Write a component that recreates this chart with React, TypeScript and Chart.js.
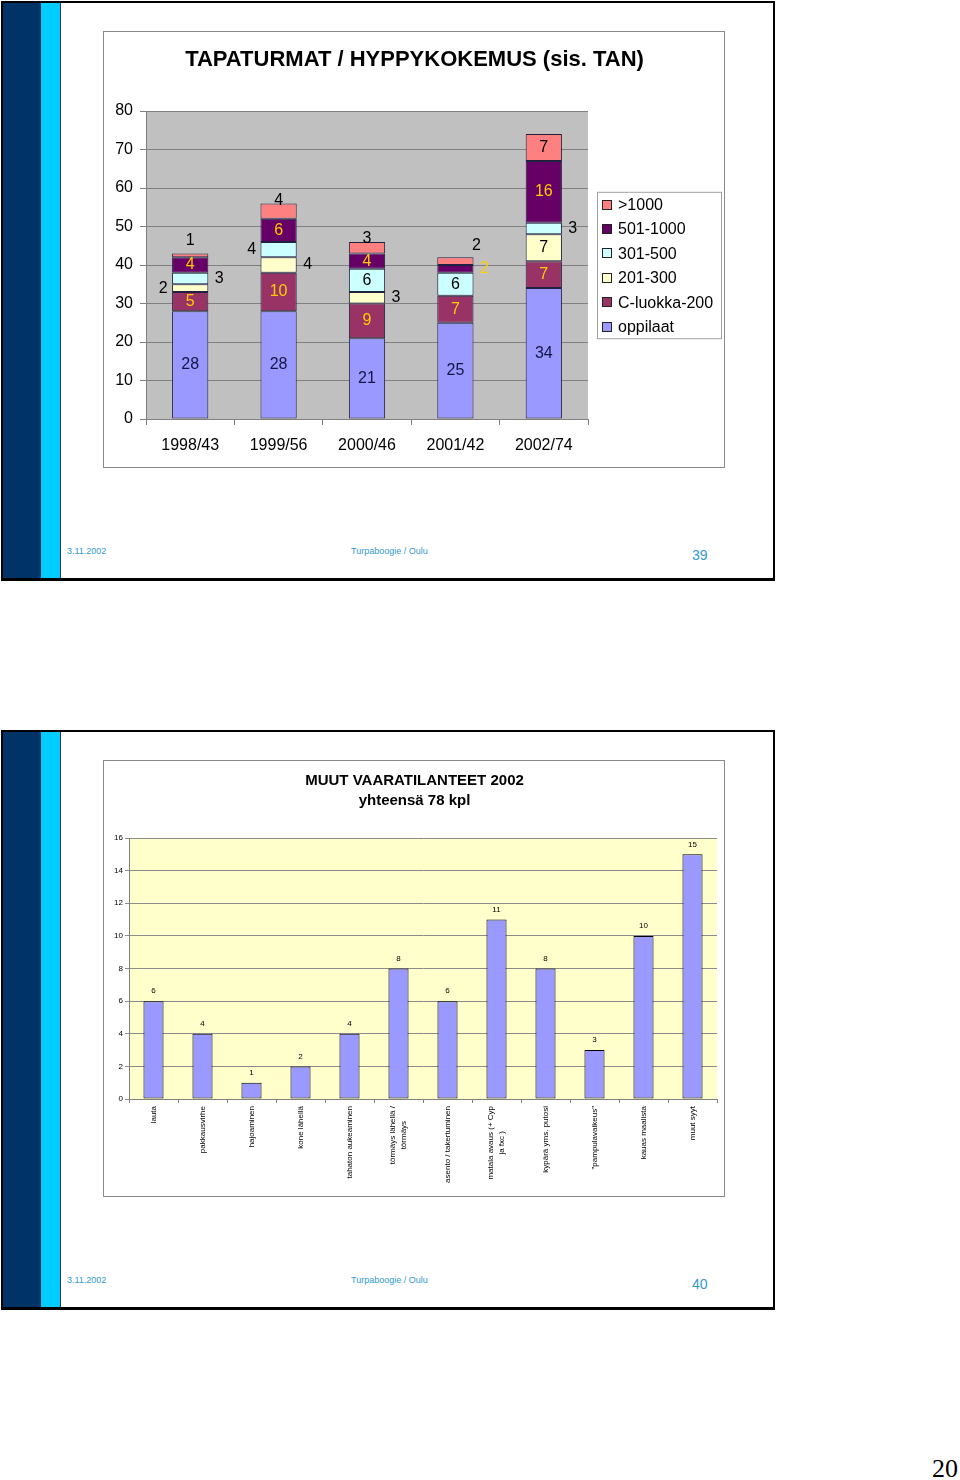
import React, { useEffect, useRef } from 'react';
import { Chart, registerables } from 'chart.js';

Chart.register(...registerables);
Chart.defaults.font.family = '"Liberation Sans", Arial, Helvetica, sans-serif';
Chart.defaults.color = '#000';

// ---------- Chart 1 data ----------
const years = ['1998/43', '1999/56', '2000/46', '2001/42', '2002/74'];
const oppilaat = [28, 28, 21, 25, 34];
const cLuokka200 = [5, 10, 9, 7, 7];
const r201_300 = [2, 4, 3, 0, 7];
const r301_500 = [3, 4, 6, 6, 3];
const r501_1000 = [4, 6, 4, 2, 16];
const over1000 = [1, 4, 3, 2, 7];
const seriesNames = ['oppilaat', 'C-luokka-200', '201-300', '301-500', '501-1000', '>1000'];
const chart1Title = 'TAPATURMAT / HYPPYKOKEMUS (sis. TAN)';
const chart1YMax = 80;
const chart1YStep = 10;

// ---------- Chart 2 data ----------
const incidentTypes: (string | string[])[] = [
  'lauta',
  'pakkausvirhe',
  'hajoaminen',
  'kone lähellä',
  'tahaton aukeaminen',
  ['törmäys lähellä /', 'törmäys'],
  'asento / takertuminen',
  ['matala avaus (+ Cyp', 'ja fxc )'],
  'kypärä yms. putosi',
  '"pampulavaikeus"',
  'kauas maalista',
  'muut syyt',
];
const incidentCounts = [6, 4, 1, 2, 4, 8, 6, 11, 8, 3, 10, 15];
const chart2Title = ['MUUT VAARATILANTEET 2002', 'yhteensä 78 kpl'];
const chart2YMax = 16;
const chart2YStep = 2;

// ---------- styles ----------
const seriesColors = ['#9999ff', '#993366', '#ffffcc', '#ccffff', '#660066', '#ff8080'];
const seriesLabelColors = ['#151545', '#ffcc00', '#000000', '#000000', '#ffcc00', '#000000'];
// c = centre, l = left of bar, r = right of bar, a = above, t = on top edge, ar = above right
const labelPlacement = [
  ['c', 'c', 'c', 'c', 'c'],
  ['c', 'c', 'c', 'c', 'c'],
  ['l', 'r', 'r', 'c', 'c'],
  ['r', 'l', 'c', 'c', 'r'],
  ['c', 'c', 'c', 'r', 'c'],
  ['a', 't', 't', 'ar', 'c'],
];

const FONT = '"Liberation Sans", Arial, Helvetica, sans-serif';
const FOOT = '#3399cc';

const plotBg = {
  id: 'plotBg',
  beforeDraw(chart: any, _a: any, opts: any) {
    const { ctx, chartArea: a } = chart;
    ctx.save();
    ctx.fillStyle = opts.color;
    ctx.fillRect(a.left, a.top, a.width, a.height);
    ctx.restore();
  },
};

const stackLabels = {
  id: 'stackLabels',
  afterDatasetsDraw(chart: any) {
    const ctx = chart.ctx;
    ctx.save();
    ctx.font = `16px ${FONT}`;
    ctx.textAlign = 'center';
    ctx.textBaseline = 'middle';
    chart.data.datasets.forEach((ds: any, i: number) => {
      const meta = chart.getDatasetMeta(i);
      meta.data.forEach((bar: any, j: number) => {
        const v = ds.data[j];
        if (!v) return;
        const { x, y, base } = bar.getProps(['x', 'y', 'base'], true);
        const cy = (y + base) / 2;
        const p = labelPlacement[i][j];
        let lx = x;
        let ly = cy;
        if (p === 'l') lx = x - 27;
        else if (p === 'r') lx = x + 29;
        else if (p === 'a') ly = y - 13;
        else if (p === 't') ly = y - 3;
        else if (p === 'ar') {
          lx = x + 21;
          ly = y - 12;
        }
        ctx.fillStyle = seriesLabelColors[i];
        ctx.fillText(String(v), lx, ly);
      });
    });
    ctx.restore();
  },
};

const boxLegend = {
  id: 'boxLegend',
  afterDraw(chart: any) {
    const ctx = chart.ctx;
    const a = chart.chartArea;
    const ds = chart.data.datasets;
    const rowH = 24.4;
    const w = 124;
    const h = rowH * ds.length;
    const x0 = a.right + 9;
    const y0 = (a.top + a.bottom) / 2 - h / 2;
    ctx.save();
    ctx.fillStyle = '#ffffff';
    ctx.fillRect(x0, y0, w, h);
    ctx.strokeStyle = '#a0a0a0';
    ctx.lineWidth = 1;
    ctx.strokeRect(x0 + 0.5, y0 + 0.5, w, h);
    ctx.font = `16px ${FONT}`;
    ctx.textBaseline = 'middle';
    ctx.textAlign = 'left';
    for (let k = 0; k < ds.length; k++) {
      const d = ds[ds.length - 1 - k];
      const cy = y0 + rowH / 2 + k * rowH + 1.5;
      ctx.fillStyle = d.backgroundColor;
      ctx.fillRect(x0 + 5.5, Math.round(cy) - 5.5, 9, 9);
      ctx.strokeStyle = '#222';
      ctx.strokeRect(x0 + 5.5, Math.round(cy) - 5.5, 9, 9);
      ctx.fillStyle = '#000';
      ctx.fillText(d.label, x0 + 21, cy);
    }
    ctx.restore();
  },
};

const topLabels = {
  id: 'topLabels',
  afterDatasetsDraw(chart: any) {
    const ctx = chart.ctx;
    ctx.save();
    ctx.font = `8px ${FONT}`;
    ctx.textAlign = 'center';
    ctx.textBaseline = 'middle';
    ctx.fillStyle = '#000';
    const ds = chart.data.datasets[0];
    chart.getDatasetMeta(0).data.forEach((bar: any, j: number) => {
      const { x, y } = bar.getProps(['x', 'y'], true);
      ctx.fillText(String(ds.data[j]), x, y - 10);
    });
    ctx.restore();
  },
};

const vertLabels = {
  id: 'vertLabels',
  afterDraw(chart: any) {
    const ctx = chart.ctx;
    const xs = chart.scales.x;
    ctx.save();
    ctx.font = `8px ${FONT}`;
    ctx.fillStyle = '#000';
    ctx.textAlign = 'center';
    ctx.textBaseline = 'middle';
    chart.data.labels.forEach((lab: any, i: number) => {
      const lines: string[] = Array.isArray(lab) ? lab : [lab];
      const px = xs.getPixelForTick(i);
      const w = Math.max(...lines.map((l) => ctx.measureText(l).width));
      ctx.save();
      ctx.translate(px, xs.top + 7);
      ctx.rotate(-Math.PI / 2);
      lines.forEach((l, k) => {
        ctx.fillText(l, -w / 2, (k - (lines.length - 1) / 2) * 11);
      });
      ctx.restore();
    });
    ctx.restore();
  },
};

// invisible right-hand axis used only to reserve room (keeps the title centred on the whole box)
function spacerAxis(width: number): any {
  return {
    position: 'right',
    display: true,
    grid: { display: false, drawTicks: false },
    border: { display: false },
    ticks: { display: false },
    afterFit: (s: any) => {
      s.width = width;
    },
  };
}

function makeChart1(): any {
  const values = [oppilaat, cLuokka200, r201_300, r301_500, r501_1000, over1000];
  return {
    type: 'bar',
    data: {
      labels: years,
      datasets: values.map((v, i) => ({
        label: seriesNames[i],
        data: v,
        backgroundColor: seriesColors[i],
        borderColor: '#202040',
        borderWidth: 1,
        borderSkipped: false,
        barPercentage: 0.41,
        categoryPercentage: 1,
      })),
    },
    plugins: [plotBg, stackLabels, boxLegend],
    options: {
      responsive: false,
      animation: false,
      layout: { padding: 0 },
      plugins: {
        legend: { display: false },
        tooltip: { enabled: false },
        plotBg: { color: '#c0c0c0' },
        title: {
          display: true,
          text: chart1Title,
          color: '#000',
          font: { size: 22, weight: 'bold', lineHeight: 1.2 },
          padding: { top: 14.8, bottom: 37.8 },
        },
      },
      scales: {
        x: {
          stacked: true,
          grid: { drawOnChartArea: false, drawTicks: true, tickLength: 6, color: '#808080', offset: true },
          border: { color: '#808080' },
          ticks: { font: { size: 16 }, padding: 11, color: '#000', maxRotation: 0 },
          afterFit: (s: any) => {
            s.height = 49;
          },
        },
        y: {
          stacked: true,
          min: 0,
          max: chart1YMax,
          grid: { color: '#808080', tickLength: 6 },
          border: { color: '#808080' },
          ticks: { stepSize: chart1YStep, font: { size: 16 }, padding: 7, color: '#000' },
          afterFit: (s: any) => {
            s.width = 42;
          },
        },
        yRight: spacerAxis(137),
      },
    },
  };
}

function makeChart2(): any {
  return {
    type: 'bar',
    data: {
      labels: incidentTypes,
      datasets: [
        {
          label: 'kpl',
          data: incidentCounts,
          backgroundColor: '#9999ff',
          borderColor: '#000000',
          borderWidth: 1,
          borderSkipped: false,
          barPercentage: 0.41,
          categoryPercentage: 1,
        },
      ],
    },
    plugins: [plotBg, topLabels, vertLabels],
    options: {
      responsive: false,
      animation: false,
      layout: { padding: 0 },
      plugins: {
        legend: { display: false },
        tooltip: { enabled: false },
        plotBg: { color: '#ffffcc' },
        title: {
          display: true,
          text: chart2Title,
          color: '#000',
          font: { size: 15, weight: 'bold', lineHeight: 20 / 15 },
          padding: { top: 10, bottom: 27 },
        },
      },
      scales: {
        x: {
          grid: { drawOnChartArea: false, drawTicks: true, tickLength: 4, color: '#808080', offset: true },
          border: { color: '#808080' },
          ticks: { display: false },
          afterFit: (s: any) => {
            s.height = 98;
          },
        },
        y: {
          min: 0,
          max: chart2YMax,
          grid: { color: '#8c8c8c', tickLength: 4 },
          border: { color: '#808080' },
          ticks: { stepSize: chart2YStep, font: { size: 8 }, padding: 2, color: '#000' },
          afterFit: (s: any) => {
            s.width = 25;
          },
        },
        yRight: spacerAxis(8),
      },
    },
  };
}

function ChartCanvas({ make, left, top }: { make: () => any; left: number; top: number }) {
  const ref = useRef<HTMLCanvasElement>(null);
  useEffect(() => {
    const c = new Chart(ref.current as HTMLCanvasElement, make());
    return () => c.destroy();
  }, []);
  return (
    <>
      <div
        style={{
          position: 'absolute',
          left,
          top,
          width: 622,
          height: 437,
          border: '1px solid #8a8a8a',
          boxSizing: 'border-box',
          background: '#fff',
        }}
      />
      <canvas
        ref={ref}
        width={621}
        height={436}
        style={{ position: 'absolute', left: left + 0.5, top: top + 0.5, width: 621, height: 436 }}
      />
    </>
  );
}

function Slide({ top, page, children }: { top: number; page: string; children: React.ReactNode }) {
  return (
    <>
      <div
        style={{
          position: 'absolute',
          left: 1,
          top,
          width: 774,
          height: 580,
          border: '2px solid #000',
          borderBottomWidth: 3,
          boxSizing: 'border-box',
          background: '#fff',
        }}
      >
        <div style={{ position: 'absolute', left: 0, top: 0, width: 38, bottom: 0, background: '#003366' }} />
        <div
          style={{
            position: 'absolute',
            left: 38,
            top: 0,
            width: 19,
            bottom: 0,
            background: '#00ccff',
            borderRight: '1px solid #335',
          }}
        />
      </div>
      <div style={{ position: 'absolute', left: 67, top: top + 544, font: `9px ${FONT}`, color: FOOT, lineHeight: '12px' }}>
        3.11.2002
      </div>
      <div style={{ position: 'absolute', left: 351, top: top + 544, font: `9px ${FONT}`, color: FOOT, lineHeight: '12px' }}>
        Turpaboogie / Oulu
      </div>
      <div style={{ position: 'absolute', left: 692, top: top + 545, font: `14px ${FONT}`, color: FOOT, lineHeight: '18px' }}>
        {page}
      </div>
      {children}
    </>
  );
}

export default function App() {
  return (
    <div
      style={{
        position: 'absolute',
        left: 0,
        top: 0,
        width: 960,
        height: 1480,
        overflow: 'hidden',
        background: '#fff',
      }}
    >
      <Slide top={1} page="39">
        <ChartCanvas make={makeChart1} left={103} top={31} />
      </Slide>
      <Slide top={730} page="40">
        <ChartCanvas make={makeChart2} left={103} top={760} />
      </Slide>
      <div
        style={{
          position: 'absolute',
          left: 900,
          top: 1453,
          width: 58,
          textAlign: 'right',
          font: '26px "Liberation Serif", "Times New Roman", serif',
          lineHeight: '32px',
          color: '#000',
        }}
      >
        20
      </div>
    </div>
  );
}
